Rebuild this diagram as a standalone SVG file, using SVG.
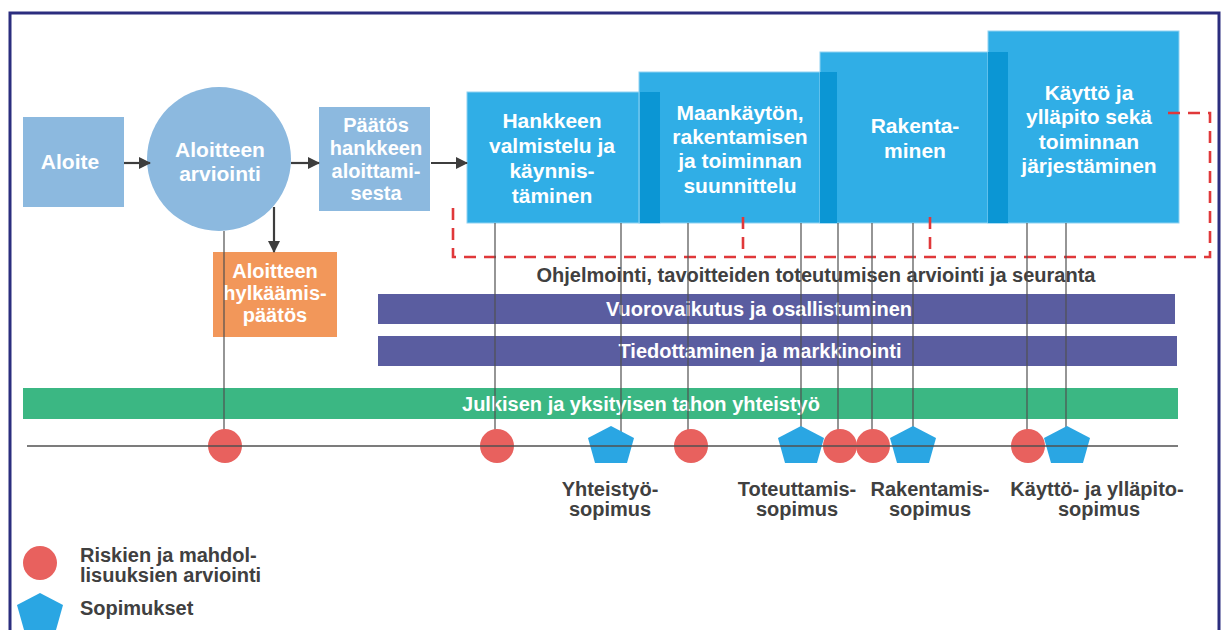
<svg xmlns="http://www.w3.org/2000/svg" width="1222" height="630" viewBox="0 0 1222 630">
<style>
text{font-family:"Liberation Sans",Arial,sans-serif;font-weight:bold;text-anchor:middle}
.w{fill:#ffffff;font-size:21px}
.w2{fill:#ffffff;font-size:20px}
.d{fill:#404040;font-size:20px}
.lt{fill:#8cb9df}
.bx{fill:#30aee6;stroke:#8fd2f2;stroke-width:1}
.strip{fill:#0b96d4}
.bar{fill:#5a5da0}
.vl{stroke:#505050;stroke-width:1.2;fill:none}
.arr{stroke:#3d3d3d;stroke-width:2.2;fill:none;marker-end:url(#ah)}
.dash{stroke:#e0383a;stroke-width:2.6;fill:none;stroke-dasharray:12 8}
.red{fill:#e8615e}
.pent{fill:#2aa6e3}
</style>
<defs>
<marker id="ah" markerUnits="userSpaceOnUse" markerWidth="12" markerHeight="12" refX="11" refY="6" orient="auto">
<path d="M0,0 L12,6 L0,12 Z" fill="#3d3d3d"/>
</marker>
<path id="pg" d="M0,-19 L23,-7 L16,18 L-16,18 L-23,-7 Z"/>
</defs>
<rect x="0" y="0" width="1222" height="630" fill="#ffffff"/>
<rect x="10" y="13" width="1209" height="640" fill="none" stroke="#2b2d7e" stroke-width="3"/>

<g id="aloite"><rect class="lt" x="23" y="117" width="101" height="90"/><text class="w" x="70" y="169">Aloite</text></g>
<g id="arviointi"><circle class="lt" cx="219" cy="159" r="72"/><text class="w" x="220" y="157">Aloitteen</text><text class="w" x="220" y="181">arviointi</text></g>
<g id="paatos"><rect class="lt" x="319" y="107" width="111" height="104"/>
<text class="w2" x="376" y="132">Päätös</text><text class="w2" x="376" y="155">hankkeen</text><text class="w2" x="376" y="178">aloittami-</text><text class="w2" x="376" y="200">sesta</text></g>
<g id="hylkays"><rect x="213" y="252" width="124" height="85" fill="#f2975a"/>
<text class="w2" x="275" y="278">Aloitteen</text><text class="w2" x="275" y="300">hylkäämis-</text><text class="w2" x="275" y="322">päätös</text></g>

<g id="hankkeen"><rect class="bx" x="467" y="92" width="193" height="131"/>
<text class="w" x="552" y="128">Hankkeen</text><text class="w" x="552" y="153">valmistelu ja</text><text class="w" x="552" y="178">käynnis-</text><text class="w" x="552" y="203">täminen</text></g>
<g id="maankaytto"><rect class="bx" x="639" y="72" width="198" height="151"/><rect class="strip" x="640" y="92" width="20" height="131"/>
<text class="w" x="740" y="120">Maankäytön,</text><text class="w" x="740" y="144">rakentamisen</text><text class="w" x="740" y="168">ja toiminnan</text><text class="w" x="740" y="193">suunnittelu</text></g>
<g id="rakentaminen"><rect class="bx" x="820" y="52" width="188" height="171"/><rect class="strip" x="820" y="72" width="17" height="151"/>
<text class="w" x="915" y="133">Rakenta-</text><text class="w" x="915" y="158">minen</text></g>
<g id="kaytto"><rect class="bx" x="988" y="31" width="191" height="192"/><rect class="strip" x="988" y="52" width="20" height="171"/>
<text class="w" x="1089" y="100">Käyttö ja</text><text class="w" x="1089" y="124">ylläpito sekä</text><text class="w" x="1089" y="149">toiminnan</text><text class="w" x="1089" y="173">järjestäminen</text></g>

<g id="ohjelmointi"><text class="d" x="816" y="282">Ohjelmointi, tavoitteiden toteutumisen arviointi ja seuranta</text></g>
<g id="vuorovaikutus"><rect class="bar" x="378" y="294" width="797" height="30"/><text class="w2" x="759" y="316">Vuorovaikutus ja osallistuminen</text></g>
<g id="tiedottaminen"><rect class="bar" x="378" y="336" width="799" height="30"/><text class="w2" x="760" y="358">Tiedottaminen ja markkinointi</text></g>
<g id="yhteistyo"><rect x="23" y="388" width="1155" height="31" fill="#3bb783"/><text class="w2" x="641" y="411">Julkisen ja yksityisen tahon yhteistyö</text></g>

<g id="connectors">
<line class="arr" x1="124" y1="163" x2="150" y2="163"/>
<line class="arr" x1="291" y1="163" x2="319" y2="163"/>
<line class="arr" x1="431" y1="163" x2="467" y2="163"/>
<line class="arr" x1="274" y1="207" x2="274" y2="252"/>
<path class="dash" d="M453,208 V257 H1210 V113 H1168"/>
<path class="dash" d="M743,217 V257"/>
<path class="dash" d="M930,217 V257"/>
<path class="vl" d="M224,231 V446 M495,223 V446 M621,223 V446 M688,223 V446 M801,223 V446 M838,223 V446 M872,223 V446 M913,223 V446 M1027,223 V446 M1066,223 V446"/>
</g>

<g id="milestones">
<circle class="red" cx="225" cy="446" r="17"/>
<circle class="red" cx="497" cy="446" r="17"/>
<use href="#pg" class="pent" x="611" y="445"/>
<circle class="red" cx="691" cy="446" r="17"/>
<use href="#pg" class="pent" x="801" y="445"/>
<circle class="red" cx="840" cy="446" r="17"/>
<circle class="red" cx="873" cy="446" r="17"/>
<use href="#pg" class="pent" x="913" y="445"/>
<circle class="red" cx="1028" cy="446" r="17"/>
<use href="#pg" class="pent" x="1067" y="445"/>
</g>
<g id="timeline"><line x1="27" y1="446" x2="1178" y2="446" stroke="#505050" stroke-width="1.5"/></g>

<g id="labels">
<text class="d" x="610" y="496">Yhteistyö-</text><text class="d" x="610" y="516">sopimus</text>
<text class="d" x="797" y="496">Toteuttamis-</text><text class="d" x="797" y="516">sopimus</text>
<text class="d" x="930" y="496">Rakentamis-</text><text class="d" x="930" y="516">sopimus</text>
<text class="d" x="1097" y="496">Käyttö- ja ylläpito-</text><text class="d" x="1099" y="516">sopimus</text>
</g>

<g id="legend">
<circle class="red" cx="40" cy="563" r="17"/>
<use href="#pg" class="pent" x="40" y="612"/>
<text class="d" x="80" y="562" style="text-anchor:start">Riskien ja mahdol-</text>
<text class="d" x="80" y="582" style="text-anchor:start">lisuuksien arviointi</text>
<text class="d" x="80" y="615" style="text-anchor:start">Sopimukset</text>
</g>
</svg>
